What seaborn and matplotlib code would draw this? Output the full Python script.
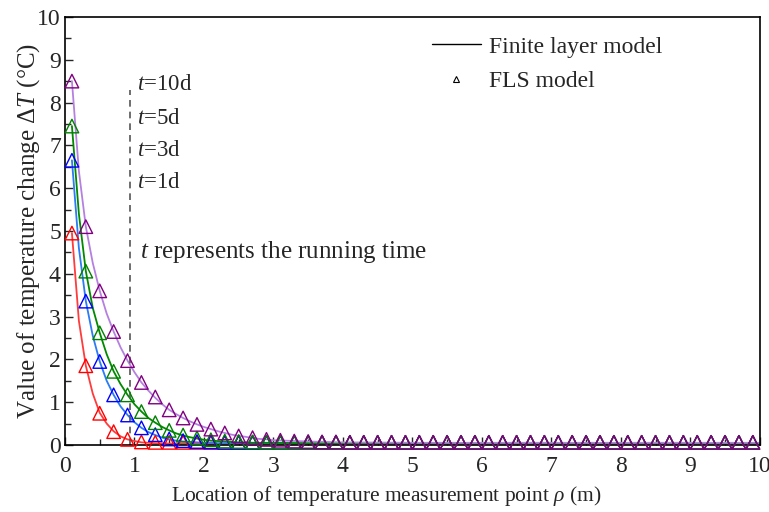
import numpy as np
import pandas as pd
import matplotlib
matplotlib.use("Agg")
import matplotlib.pyplot as plt
from matplotlib.lines import Line2D
from matplotlib.ticker import MultipleLocator
import seaborn as sns

# running times
times = ["t=1d", "t=3d", "t=5d", "t=10d"]

# finite layer model curves
rho_line = [0.1, 0.2, 0.3, 0.4, 0.5, 0.6, 0.7, 0.8, 0.9, 1.0,
            1.1, 1.2, 1.3, 1.4, 1.5, 1.6, 1.7, 1.8, 1.9, 2.0,
            2.1, 2.2, 2.3, 2.4, 2.5, 2.6, 2.7, 2.8, 2.9, 3.0,
            3.5, 4.0, 5.0, 6.0, 7.0, 8.0, 9.0, 10.0]
line_1d = [4.95, 2.9, 1.85, 1.2, 0.75, 0.5, 0.32, 0.2, 0.13, 0.09,
           0.06, 0.05, 0.04, 0.04, 0.03, 0.03, 0.03, 0.03, 0.03, 0.03,
           0.03, 0.03, 0.03, 0.03, 0.03, 0.03, 0.03, 0.03, 0.03, 0.03,
           0.03, 0.03, 0.03, 0.03, 0.03, 0.03, 0.03, 0.03]
line_3d = [6.65, 4.6, 3.36, 2.55, 1.95, 1.5, 1.17, 0.9, 0.7, 0.53,
           0.4, 0.3, 0.23, 0.17, 0.13, 0.1, 0.08, 0.07, 0.06, 0.05,
           0.05, 0.04, 0.04, 0.04, 0.04, 0.04, 0.04, 0.04, 0.04, 0.04,
           0.04, 0.04, 0.04, 0.04, 0.04, 0.04, 0.04, 0.04]
line_5d = [7.45, 5.4, 4.06, 3.2, 2.62, 2.12, 1.72, 1.42, 1.17, 0.95,
           0.78, 0.63, 0.52, 0.42, 0.34, 0.27, 0.22, 0.18, 0.15, 0.12,
           0.1, 0.09, 0.08, 0.07, 0.06, 0.06, 0.05, 0.05, 0.05, 0.05,
           0.04, 0.04, 0.04, 0.04, 0.04, 0.04, 0.04, 0.04]
line_10d = [8.5, 6.4, 5.1, 4.25, 3.6, 3.07, 2.65, 2.28, 1.97, 1.7,
            1.46, 1.27, 1.1, 0.95, 0.82, 0.72, 0.63, 0.55, 0.48, 0.42,
            0.37, 0.32, 0.28, 0.24, 0.21, 0.19, 0.16, 0.14, 0.13, 0.11,
            0.08, 0.06, 0.05, 0.05, 0.05, 0.05, 0.05, 0.05]

# FLS model points
rho_fls = np.round(np.arange(0.1, 10.0, 0.2), 1)
fls_1d = [4.95, 1.85, 0.74, 0.31, 0.13, 0.07, 0.06, 0.06, 0.06, 0.06,
          0.06, 0.06, 0.06, 0.06, 0.06, 0.06, 0.06, 0.06, 0.06, 0.06,
          0.06, 0.06, 0.06, 0.06, 0.06, 0.06, 0.06, 0.06, 0.06, 0.06,
          0.06, 0.06, 0.06, 0.06, 0.06, 0.06, 0.06, 0.06, 0.06, 0.06,
          0.06, 0.06, 0.06, 0.06, 0.06, 0.06, 0.06, 0.06, 0.06, 0.06]
fls_3d = [6.65, 3.36, 1.95, 1.17, 0.70, 0.40, 0.24, 0.14, 0.10, 0.08,
          0.07, 0.06, 0.06, 0.06, 0.06, 0.06, 0.06, 0.06, 0.06, 0.06,
          0.06, 0.06, 0.06, 0.06, 0.06, 0.06, 0.06, 0.06, 0.06, 0.06,
          0.06, 0.06, 0.06, 0.06, 0.06, 0.06, 0.06, 0.06, 0.06, 0.06,
          0.06, 0.06, 0.06, 0.06, 0.06, 0.06, 0.06, 0.06, 0.06, 0.06]
fls_5d = [7.45, 4.06, 2.62, 1.72, 1.17, 0.78, 0.52, 0.34, 0.23, 0.16,
          0.12, 0.09, 0.08, 0.07, 0.06, 0.06, 0.06, 0.06, 0.06, 0.06,
          0.06, 0.06, 0.06, 0.06, 0.06, 0.06, 0.06, 0.06, 0.06, 0.06,
          0.06, 0.06, 0.06, 0.06, 0.06, 0.06, 0.06, 0.06, 0.06, 0.06,
          0.06, 0.06, 0.06, 0.06, 0.06, 0.06, 0.06, 0.06, 0.06, 0.06]
fls_10d = [8.5, 5.1, 3.6, 2.65, 1.97, 1.46, 1.12, 0.82, 0.63, 0.48,
           0.37, 0.28, 0.21, 0.17, 0.13, 0.11, 0.09, 0.08, 0.07, 0.07,
           0.06, 0.06, 0.06, 0.06, 0.06, 0.06, 0.06, 0.06, 0.06, 0.06,
           0.06, 0.06, 0.06, 0.06, 0.06, 0.06, 0.06, 0.06, 0.06, 0.06,
           0.06, 0.06, 0.06, 0.06, 0.06, 0.06, 0.06, 0.06, 0.06, 0.06]

line_colors = ["#ff3b3b", "#2a7bf5", "#008a00", "#b580e0"]
mark_colors = ["#ff0000", "#0000ff", "#008000", "#800080"]

sns.set_style("ticks")
plt.rcParams["font.family"] = ["Liberation Serif", "DejaVu Serif"]
plt.rcParams["mathtext.fontset"] = "custom"
plt.rcParams["mathtext.rm"] = "Liberation Serif"
plt.rcParams["mathtext.it"] = "Liberation Serif:italic"

df_line = pd.DataFrame({
    "rho": rho_line * 4,
    "dT": line_1d + line_3d + line_5d + line_10d,
    "time": np.repeat(times, len(rho_line)),
})

fig = plt.figure(figsize=(7.69, 5.12), dpi=100)
ax = fig.add_axes([0.0845, 0.131, 0.9035, 0.836])

sns.lineplot(data=df_line, x="rho", y="dT", hue="time", palette=line_colors,
             linewidth=1.3, legend=False, ax=ax)

for vals, c in zip([fls_1d, fls_3d, fls_5d, fls_10d], mark_colors):
    sns.scatterplot(x=rho_fls, y=vals, marker="^", s=95, facecolor="none",
                    edgecolor=c, linewidth=1.0, clip_on=False, zorder=3, ax=ax)

# separator line and notes
ax.vlines(0.94, 0, 8.3, colors="#555555", linestyles=(0, (4, 3)), linewidth=1.2)
for lab, yy in zip(["10d", "5d", "3d", "1d"], [8.43, 7.63, 6.88, 6.13]):
    ax.text(1.03, yy, r"$\mathit{t}$=" + lab, fontsize=16.5, va="center")
ax.text(1.08, 4.5, r"$\mathit{t}$ represents the running time", fontsize=18, va="center")

ax.set_xlim(0, 10)
ax.set_ylim(0, 10)
ax.xaxis.set_major_locator(MultipleLocator(1))
ax.xaxis.set_minor_locator(MultipleLocator(0.5))
ax.yaxis.set_major_locator(MultipleLocator(1))
ax.yaxis.set_minor_locator(MultipleLocator(0.5))
ax.tick_params(which="both", direction="in", top=False, right=False, labelsize=17)
ax.tick_params(which="major", length=6, width=1)
ax.tick_params(axis="x", which="major", pad=8)
ax.tick_params(axis="y", which="major", pad=3)
ax.tick_params(which="minor", length=4, width=1)
for sp in ax.spines.values():
    sp.set_linewidth(1.2)
    sp.set_color("black")

ax.set_xlabel(r"Location of temperature measurement point $\mathit{\rho}$ (m)", fontsize=15.5)
ax.xaxis.set_label_coords(0.462, -0.092)
ax.set_ylabel(r"Value of temperature change $\Delta\mathit{T}$ (°C)", fontsize=18, labelpad=-3.5)

handles = [Line2D([], [], color="black", linewidth=1.0),
           Line2D([], [], color="black", marker="^", markersize=5, linestyle="none",
                  markerfacecolor="none", markeredgewidth=0.8)]
ax.legend(handles, ["Finite layer model", "FLS model"], loc="upper left",
          bbox_to_anchor=(0.514, 0.977), borderaxespad=0, frameon=False, fontsize=17,
          handlelength=2.1, handletextpad=0.35, labelspacing=0.55)

fig.savefig("out.png", dpi=100)
